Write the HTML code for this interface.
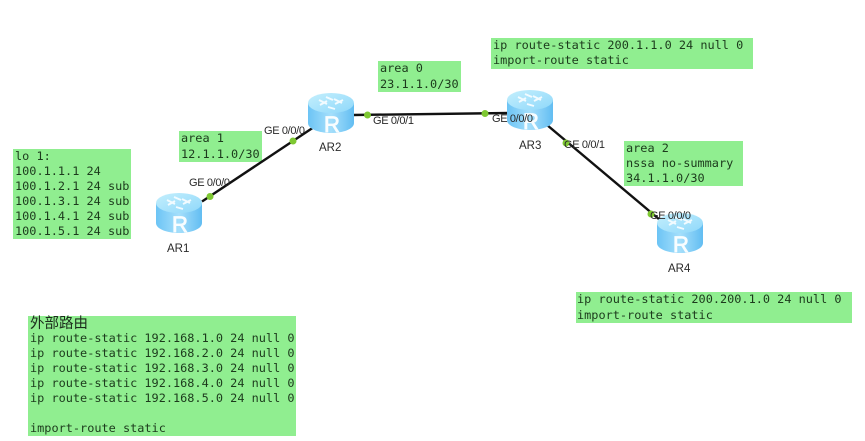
<!DOCTYPE html>
<html>
<head>
<meta charset="utf-8">
<style>
html,body{margin:0;padding:0;background:#fff;}
body{width:865px;height:441px;overflow:hidden;position:relative;}
svg{position:absolute;left:0;top:0;filter:blur(.35px);}
.m{font-family:"DejaVu Sans Mono","Liberation Mono","Noto Sans CJK SC",monospace;font-size:11.88px;fill:#1c3a1c;}
.s{font-family:"Liberation Sans",sans-serif;font-size:11px;fill:#2a2a2a;letter-spacing:-.35px;}
.n{font-family:"Liberation Sans",sans-serif;font-size:11.5px;fill:#2a2a2a;}
.c{font-family:"Noto Sans CJK SC","WenQuanYi Zen Hei",sans-serif;font-size:14.5px;fill:#1c2c1c;}
.r{font-family:"Liberation Sans",sans-serif;font-size:22px;fill:#f8fdff;stroke:#f8fdff;stroke-width:.8px;text-anchor:middle;}
.b{fill:#90ee90;}
.d{fill:#7ec832;}
</style>
</head>
<body>
<svg width="865" height="441" viewBox="0 0 865 441" xmlns="http://www.w3.org/2000/svg">
<defs>
<linearGradient id="side" x1="0" x2="1" y1="0" y2="0">
<stop offset="0" stop-color="#6cc4f5"/><stop offset=".5" stop-color="#a5dffb"/><stop offset="1" stop-color="#62bdf2"/>
</linearGradient>
<linearGradient id="top" x1="0" x2="1" y1="0" y2="1">
<stop offset="0" stop-color="#c4effd"/><stop offset="1" stop-color="#8fd8fa"/>
</linearGradient>
<g id="r">
<path d="M-23,-10 V10 C-23,16 -12,20 0,20 C12,20 23,16 23,10 V-10 Z" fill="url(#side)"/>
<ellipse cx="0" cy="-10" rx="23" ry="10" fill="url(#top)"/>
<g stroke="#f2fbff" stroke-width="1.9" fill="none">
<path d="M-12,-13 L-4,-9 M-11,-8 L-4,-12 M3,-14 L11,-10 M4,-9 L12,-13 M-5,-16 L2,-13 M-3,-6 L4,-4"/>
</g>
</g>
</defs>

<rect class="b" x="13" y="149" width="118" height="90"/>
<rect class="b" x="179" y="131" width="83" height="31"/>
<rect class="b" x="378" y="61" width="83" height="31"/>
<rect class="b" x="491" y="38" width="262" height="31"/>
<rect class="b" x="624" y="141" width="119" height="45"/>
<rect class="b" x="576" y="292" width="276" height="31"/>
<rect class="b" x="28" y="316" width="268" height="120"/>

<g stroke="#111" stroke-width="2.4" fill="none">
<line x1="202" y1="201.500" x2="314" y2="127"/>
<line x1="353" y1="115" x2="510" y2="113"/>
<line x1="547" y1="125" x2="660" y2="220"/>
</g>

<use href="#r" x="179" y="213"/>
<text class="r" x="180" y="232">R</text>
<use href="#r" x="331" y="113"/>
<text class="r" x="332" y="132">R</text>
<use href="#r" x="530" y="110"/>
<text class="r" x="531" y="129">R</text>
<use href="#r" x="680" y="233"/>
<text class="r" x="681" y="252">R</text>

<circle class="d" cx="210" cy="196.500" r="3.500"/>
<circle class="d" cx="293" cy="141" r="3.500"/>
<circle class="d" cx="367.500" cy="115" r="3.500"/>
<circle class="d" cx="485" cy="113.500" r="3.500"/>
<circle class="d" cx="566" cy="143" r="3.500"/>
<circle class="d" cx="651" cy="214" r="3.500"/>

<g class="s">
<text x="189" y="186">GE 0/0/0</text>
<text x="264" y="134">GE 0/0/0</text>
<text x="373" y="124">GE 0/0/1</text>
<text x="492" y="122">GE 0/0/0</text>
<text x="564" y="148">GE 0/0/1</text>
<text x="650" y="219">GE 0/0/0</text>
</g>
<g class="n">
<text x="167" y="252">AR1</text>
<text x="319" y="151">AR2</text>
<text x="519" y="149">AR3</text>
<text x="668" y="272">AR4</text>
</g>

<g class="m">
<text x="15" y="160">lo 1:</text>
<text x="15" y="175">100.1.1.1 24</text>
<text x="15" y="190">100.1.2.1 24 sub</text>
<text x="15" y="205">100.1.3.1 24 sub</text>
<text x="15" y="220">100.1.4.1 24 sub</text>
<text x="15" y="235">100.1.5.1 24 sub</text>

<text x="181" y="142">area 1</text>
<text x="181" y="158">12.1.1.0/30</text>

<text x="380" y="72">area 0</text>
<text x="380" y="88">23.1.1.0/30</text>

<text x="493" y="49">ip route-static 200.1.1.0 24 null 0</text>
<text x="493" y="64">import-route static</text>

<text x="626" y="152">area 2</text>
<text x="626" y="167">nssa no-summary</text>
<text x="626" y="182">34.1.1.0/30</text>

<text x="577" y="303">ip route-static 200.200.1.0 24 null 0</text>
<text x="577" y="319">import-route static</text>

<text x="30" y="342">ip route-static 192.168.1.0 24 null 0</text>
<text x="30" y="357">ip route-static 192.168.2.0 24 null 0</text>
<text x="30" y="372">ip route-static 192.168.3.0 24 null 0</text>
<text x="30" y="387">ip route-static 192.168.4.0 24 null 0</text>
<text x="30" y="402">ip route-static 192.168.5.0 24 null 0</text>
<text x="30" y="432">import-route static</text>
</g>
<text class="c" x="30" y="328">外部路由</text>
</svg>
</body>
</html>
